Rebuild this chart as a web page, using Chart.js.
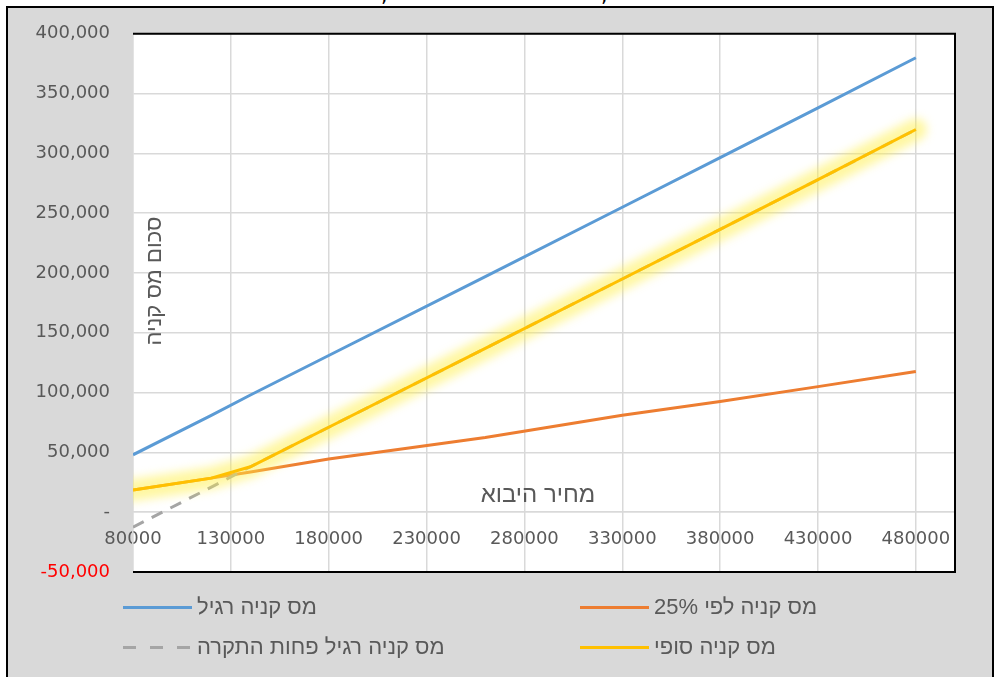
<!DOCTYPE html>
<html>
<head>
<meta charset="utf-8">
<script src="https://cdn.jsdelivr.net/npm/chart.js@4.4.1/dist/chart.umd.min.js"></script>
<style>
  html, body { margin: 0; padding: 0; width: 994px; height: 677px; overflow: hidden; background: #fff; font-family: 'DejaVu Sans', sans-serif; }
  #frame { position: absolute; left: 6px; top: 6px; width: 984px; height: 700px; border: 2px solid #000; background: #d9d9d9; }
  #chart { position: absolute; left: 0; top: 0; }
  .cut { position: absolute; top: -17px; font-size: 20px; color: #000; }
  #legend { position: absolute; left: 123px; top: 587px; display: grid; grid-template-columns: 457px 320px; grid-auto-rows: 40px; }
  .item { display: flex; align-items: center; }
  .swatch { width: 69px; height: 3px; flex: none; }
  .label { margin-left: 5px; color: #595959; font-family: 'Liberation Sans', sans-serif; font-size: 22px; direction: rtl; white-space: nowrap; }
</style>
</head>
<body>
<div id="frame"></div>
<span class="cut" style="left:381px">,</span>
<span class="cut" style="left:601px">,</span>
<canvas id="chart" width="994" height="677"></canvas>
<div id="legend"></div>
<script>
// import price (x) and tax amounts
const importPrice = [80000, 120000, 140000, 180000, 260000, 330000, 380000, 430000, 480000];
const regularTax = [48000, 81000, 98000, 131000, 197000, 255000, 296500, 338000, 380000];
const tax25 = [18500, 28500, 33600, 44500, 62500, 81000, 92600, 105000, 117700];
const regularMinusCap = [-12500, 21000, 38000, 71000, 137000, 195000, 236500, 278000, 320000];
const finalTax = [18500, 28500, 38000, 71000, 137000, 195000, 236500, 278000, 320000];

const xTicks = [80000, 130000, 180000, 230000, 280000, 330000, 380000, 430000, 480000];
const xMin = 80000, xMax = 500000;
const yMin = -50000, yMax = 400000, yStep = 50000;

const xTitle = 'מחיר היבוא';
const yTitle = 'סכום מס קניה';

const FONT = 'DejaVu Sans';
const TITLE_FONT = 'Liberation Sans';
const TEXT = '#595959';
const GRID = '#d9d9d9';

const pts = vals => vals.map((v, i) => ({ x: importPrice[i], y: v }));

const datasets = [
  { label: 'מס קניה רגיל', data: pts(regularTax), borderColor: '#5b9bd5', borderWidth: 3, order: 4 },
  { label: 'מס קניה לפי 25%', data: pts(tax25), borderColor: '#ed7d31', borderWidth: 3, order: 3 },
  { label: 'מס קניה רגיל פחות התקרה', data: pts(regularMinusCap), borderColor: '#a5a5a5', borderWidth: 3, borderDash: [12, 9], order: 2 },
  { label: '', data: pts(finalTax), borderColor: 'rgba(255,240,70,0.5)', borderWidth: 22, borderCapStyle: 'round', glow: true, order: 1 },
  { label: 'מס קניה סופי', data: pts(finalTax), borderColor: '#ffc000', borderWidth: 3, order: 0 },
];
datasets.forEach(d => { d.pointRadius = 0; d.tension = 0; d.fill = false; });

// white plot area, black frame, in-plot axis titles
const plotFrame = {
  id: 'plotFrame',
  beforeDraw(chart) {
    const { ctx, chartArea: a } = chart;
    ctx.save();
    ctx.fillStyle = '#fff';
    ctx.fillRect(a.left, a.top, a.right - a.left, a.bottom - a.top);
    ctx.restore();
  },
  afterDraw(chart) {
    const { ctx, chartArea: a } = chart;
    ctx.save();
    ctx.strokeStyle = '#000';
    ctx.lineWidth = 2;
    ctx.beginPath();
    ctx.moveTo(a.left, a.top);
    ctx.lineTo(a.right, a.top);
    ctx.lineTo(a.right, a.bottom);
    ctx.lineTo(a.left, a.bottom);
    ctx.stroke();

    ctx.fillStyle = TEXT;
    ctx.textAlign = 'center';
    ctx.textBaseline = 'middle';
    ctx.font = '24px "' + TITLE_FONT + '"';
    ctx.fillText(xTitle, 538, 495);
    ctx.font = '22px "' + TITLE_FONT + '"';
    ctx.translate(155, 281);
    ctx.rotate(-Math.PI / 2);
    ctx.fillText(yTitle, 0, 0);
    ctx.restore();
  }
};

// soft glow behind the final-tax line
const glow = {
  id: 'glow',
  beforeDatasetDraw(chart, args) {
    if (chart.data.datasets[args.index].glow) {
      chart.ctx.save();
      chart.ctx.filter = 'blur(5px)';
    }
  },
  afterDatasetDraw(chart, args) {
    if (chart.data.datasets[args.index].glow) chart.ctx.restore();
  }
};

const chart = new Chart(document.getElementById('chart').getContext('2d'), {
  type: 'line',
  data: { datasets },
  plugins: [plotFrame, glow],
  options: {
    responsive: false,
    animation: false,
    devicePixelRatio: 1,
    layout: { padding: { left: 0, top: 33, right: 39, bottom: 105 } },
    plugins: { legend: { display: false }, tooltip: { enabled: false } },
    scales: {
      x: {
        type: 'linear',
        min: xMin,
        max: xMax,
        position: { y: 0 },
        afterBuildTicks(scale) { scale.ticks = xTicks.map(v => ({ value: v })); },
        grid: { color: GRID, lineWidth: 1.5, drawTicks: false },
        border: { color: GRID, width: 1.5 },
        ticks: {
          color: TEXT, font: { family: FONT, size: 18 }, padding: 16,
          maxRotation: 0, autoSkip: false,
          callback: v => String(v)
        }
      },
      y: {
        type: 'linear',
        min: yMin,
        max: yMax,
        afterFit(scale) { scale.width = 133; },
        grid: { color: GRID, lineWidth: 1.5, drawTicks: false },
        border: { color: GRID, width: 1.5 },
        ticks: {
          stepSize: yStep,
          padding: 23,
          font: { family: FONT, size: 18 },
          color: c => (c.tick && c.tick.value < 0 ? '#ff0000' : TEXT),
          callback: v => (v === 0 ? '-' : v.toLocaleString('en-US'))
        }
      }
    }
  }
});

// two-column legend like the original
const legendEl = document.getElementById('legend');
chart.data.datasets.forEach(d => {
  if (!d.label) return;
  const item = document.createElement('div');
  item.className = 'item';
  const sw = document.createElement('div');
  sw.className = 'swatch';
  if (d.borderDash) {
    sw.style.background = 'repeating-linear-gradient(to right, ' + d.borderColor + ' 0 13px, transparent 13px 27px)';
  } else {
    sw.style.background = d.borderColor;
  }
  const lb = document.createElement('span');
  lb.className = 'label';
  lb.textContent = d.label;
  item.appendChild(sw);
  item.appendChild(lb);
  legendEl.appendChild(item);
});
</script>
</body>
</html>
